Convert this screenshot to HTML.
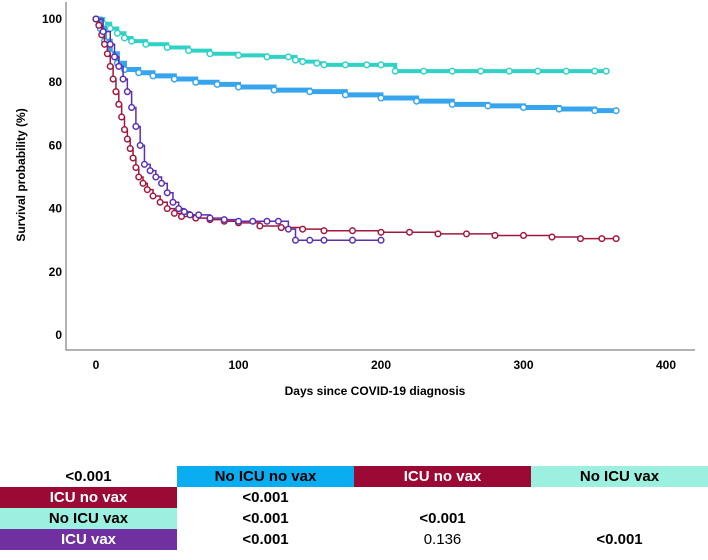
<!DOCTYPE html>
<html><head><meta charset="utf-8"><style>
body{margin:0;width:708px;height:560px;background:#fff;font-family:"Liberation Sans",Arial,sans-serif;overflow:hidden}
svg{position:absolute;left:0;top:0}
#tbl{position:absolute;left:0;top:466px;border-collapse:collapse;font-weight:bold;font-size:15px}
#tbl td{width:177px;height:21px;padding:0;text-align:center}
</style></head><body>
<svg id="chart" width="708" height="460"></svg>
<table id="tbl">
<tr><td>&lt;0.001</td><td style="background:#0aaef0">No ICU no vax</td><td style="background:#9b0a34;color:#fff">ICU no vax</td><td style="background:#9cf0e0">No ICU vax</td></tr>
<tr><td style="background:#9b0a34;color:#fff">ICU no vax</td><td>&lt;0.001</td><td></td><td></td></tr>
<tr><td style="background:#9cf0e0">No ICU vax</td><td>&lt;0.001</td><td>&lt;0.001</td><td></td></tr>
<tr><td style="background:#7030a0;color:#fff">ICU vax</td><td>&lt;0.001</td><td style="font-weight:normal">0.136</td><td>&lt;0.001</td></tr>
</table>
<script>
const xTicks=[0,100,200,300,400];
const yTicks=[0,20,40,60,80,100];
const blueT=[0,3,6,10,15,20,30,40,55,70,85,100,125,150,175,200,225,250,275,300,325,350,365];
const blueV=[100,97,93,89,86,84,83,82,81,80,79.3,78.5,77.5,77,76,75,74,73,72.5,72,71.5,71,71];
const cyanT=[0,5,10,15,20,25,35,50,65,80,100,120,135,140,145,155,160,175,190,200,210,230,250,270,290,310,330,350,358];
const cyanV=[100,98.5,97,95.5,94,93,92,91,90,89,88.5,88,88,87,86.5,86,85.5,85.5,85.5,85.5,83.5,83.5,83.5,83.5,83.5,83.5,83.5,83.5,83.5];
const redT=[0,2,4,6,8,10,12,14,16,18,20,22,24,26,28,30,33,36,40,45,50,55,60,70,80,90,100,115,130,145,160,180,200,220,240,260,280,300,320,340,355,365];
const redV=[100,98,95,92,89,85,81,77,73,69,65,62,59,56,53,50,48,46,44,42,40,38.5,37.5,37,36.5,36,35.5,34.5,34,33.5,33,33,32.5,32.5,32,32,31.5,31.5,31,30.5,30.5,30.5];
const purpT=[0,5,10,13,16,19,22,25,28,31,34,38,42,46,50,54,58,62,66,72,80,90,100,110,120,128,135,140,150,160,180,200];
const purpV=[100,96,92,88,85,81,77,72,66,60,54,52,50,48,45,42,40,39,38,38,37,36.5,36,36,36,36,33.5,30,30,30,30,30];
const X0=96,XS=1.425,Y0=335,YS=3.16;
const xs=t=>X0+t*XS, ys=v=>Y0-v*YS;
const svg=document.getElementById('chart');const NS='http://www.w3.org/2000/svg';
function mk(tag,a,parent){const e=document.createElementNS(NS,tag);for(const k in a)e.setAttribute(k,a[k]);(parent||svg).appendChild(e);return e;}
const ax=mk('path',{d:'M66 2 V350 H695',stroke:'#999',fill:'none','stroke-width':1.5});


xTicks.forEach(t=>{const e=mk('text',{x:xs(t),y:369,'text-anchor':'middle','font-size':12,'font-weight':'bold'});e.textContent=t;

});
yTicks.forEach(v=>{const e=mk('text',{x:62,y:ys(v)+4,'text-anchor':'end','font-size':12,'font-weight':'bold'});e.textContent=v;

});
const xt=mk('text',{x:375,y:395,'text-anchor':'middle','font-size':12,'font-weight':'bold'});xt.textContent='Days since COVID-19 diagnosis';


const yt=mk('text',{x:0,y:0,'text-anchor':'middle','font-size':12,'font-weight':'bold',transform:'translate(25,175) rotate(-90)'});yt.textContent='Survival probability (%)';


function series(T,V,col,name,w){
 const g=mk('g',{});
 
 
 let d='M'+xs(T[0])+' '+ys(V[0]);
 for(let i=1;i<T.length;i++){d+=' H'+xs(T[i])+' V'+ys(V[i]);}
 mk('path',{d:d,stroke:col,fill:'none','stroke-width':w},g);
 T.forEach((t,i)=>{const c=mk('circle',{cx:xs(t),cy:ys(V[i]),r:2.8,fill:'#fff',stroke:col,'stroke-width':1.5},g);
 
 });
}
series(cyanT,cyanV,'#2fd2c4','no-icu-vax-curve',4);
series(blueT,blueV,'#37a5ee','no-icu-no-vax-curve',5);
series(redT,redV,'#a3173f','icu-no-vax-curve',1.5);
series(purpT,purpV,'#5b2fb0','icu-vax-curve',1.5);
</script>
</body></html>
